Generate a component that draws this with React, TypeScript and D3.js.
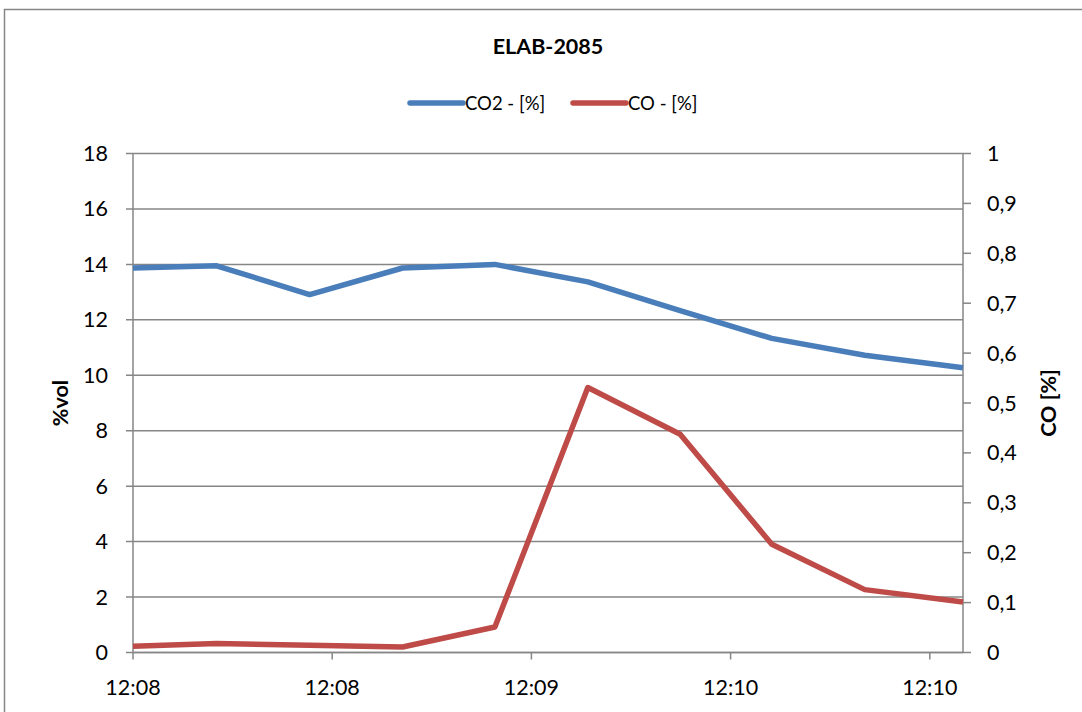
import React from "react";
import * as d3 from "d3";

const seconds = [0, 12.6, 26.6, 40.6, 54.5, 68.5, 82.4, 96.2, 110.2, 125];
const co2 = [13.87, 13.95, 12.91, 13.87, 14.0, 13.37, 12.33, 11.33, 10.72, 10.27];
const co = [0.0126, 0.018, 0.0146, 0.011, 0.051, 0.531, 0.4375, 0.217, 0.126, 0.101];
const xTickSeconds = [0, 30, 60, 90, 120];
const xTickLabels = ["12:08", "12:08", "12:09", "12:10", "12:10"];
const leftTicks = [0, 2, 4, 6, 8, 10, 12, 14, 16, 18];
const rightTicks = [0, 0.1, 0.2, 0.3, 0.4, 0.5, 0.6, 0.7, 0.8, 0.9, 1];

const W = 1082;
const H = 712;
const M = { left: 133, right: 963, top: 153.5, bottom: 652.5 };
const FONT = "Lato, 'Open Sans', sans-serif";
const BLUE = "#4a7ebb";
const RED = "#be4b48";
const GRID = "#868686";

export default function App() {
  const x = d3.scaleLinear().domain([0, 125]).range([M.left, M.right]);
  const yL = d3.scaleLinear().domain([0, 18]).range([M.bottom, M.top]);
  const yR = d3.scaleLinear().domain([0, 1]).range([M.bottom, M.top]);
  const lineL = d3
    .line<number>()
    .x((_, i) => x(seconds[i]))
    .y((d) => yL(d));
  const lineR = d3
    .line<number>()
    .x((_, i) => x(seconds[i]))
    .y((d) => yR(d));
  const fmtR = (v: number) => (v === 0 || v === 1 ? String(v) : d3.format(".1f")(v).replace(".", ","));

  return (
    <svg
      width={W}
      height={H}
      style={{ position: "absolute", left: 0, top: 0, background: "#fff" }}
      fontFamily={FONT}
    >
      <rect x={4.5} y={9.5} width={1100} height={720} fill="#fff" stroke={GRID} strokeWidth={1.5} />
      <text x={548} y={54} textAnchor="middle" fontSize={21.5} fontWeight="bold" fill="#000">
        ELAB-2085
      </text>
      {/* legend */}
      <g>
        <line x1={410} x2={463} y1={103} y2={103} stroke={BLUE} strokeWidth={5.5} strokeLinecap="round" />
        <text x={465} y={109.5} fontSize={18.5} fill="#000">CO2 - [%]</text>
        <line x1={573} x2={626} y1={103} y2={103} stroke={RED} strokeWidth={5.5} strokeLinecap="round" />
        <text x={628} y={109.5} fontSize={18.5} fill="#000">CO - [%]</text>
      </g>
      {/* gridlines */}
      {leftTicks.map((t) => (
        <line key={"g" + t} x1={M.left - 7} x2={M.right} y1={yL(t)} y2={yL(t)} stroke={GRID} strokeWidth={1.5} />
      ))}
      {/* right ticks */}
      {rightTicks.map((t) => (
        <g key={"r" + t}>
          <line x1={M.right} x2={M.right + 8} y1={yR(t)} y2={yR(t)} stroke={GRID} strokeWidth={1.5} />
          <text x={987} y={yR(t) + 7.5} fontSize={21.5} fill="#000">
            {fmtR(t)}
          </text>
        </g>
      ))}
      {/* left tick labels */}
      {leftTicks.map((t) => (
        <text key={"l" + t} x={108} y={yL(t) + 7.5} fontSize={21.5} textAnchor="end" fill="#000">
          {t}
        </text>
      ))}
      {/* axes lines */}
      <line x1={M.left} x2={M.left} y1={M.top} y2={M.bottom} stroke={GRID} strokeWidth={1.5} />
      <line x1={M.right} x2={M.right} y1={M.top} y2={M.bottom} stroke={GRID} strokeWidth={1.5} />
      <line x1={M.left} x2={M.right} y1={M.bottom} y2={M.bottom} stroke={GRID} strokeWidth={1.5} />
      {xTickSeconds.map((s, i) => (
        <g key={"x" + i}>
          <line x1={x(s)} x2={x(s)} y1={M.bottom} y2={M.bottom + 7} stroke={GRID} strokeWidth={1.5} />
          <text x={x(s)} y={695} fontSize={21.5} textAnchor="middle" fill="#000">
            {xTickLabels[i]}
          </text>
        </g>
      ))}
      {/* axis titles */}
      <text
        transform={`translate(68,403) rotate(-90)`}
        textAnchor="middle"
        fontSize={21.5}
        fontWeight="bold"
        fill="#000"
      >
        %vol
      </text>
      <text
        transform={`translate(1056,403) rotate(-90)`}
        textAnchor="middle"
        fontSize={21.5}
        fontWeight="bold"
        fill="#000"
      >
        CO [%]
      </text>
      {/* series */}
      <path d={lineL(co2) || ""} fill="none" stroke={BLUE} strokeWidth={5.5} strokeLinejoin="round" />
      <path d={lineR(co) || ""} fill="none" stroke={RED} strokeWidth={5.5} strokeLinejoin="round" />
    </svg>
  );
}
